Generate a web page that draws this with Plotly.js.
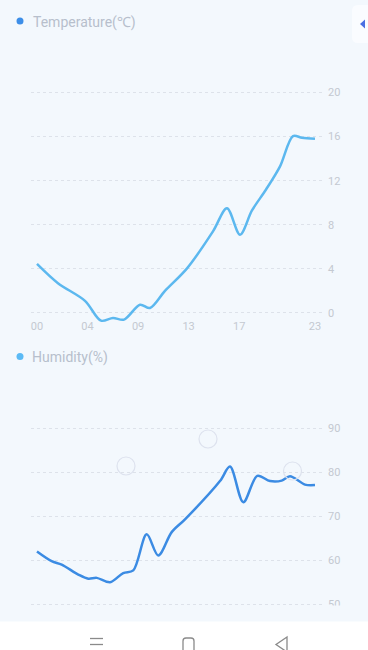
<!DOCTYPE html>
<html>
<head>
<meta charset="utf-8">
<script src="https://cdn.plot.ly/plotly-3.0.1.min.js"></script>
<style>
  html, body { margin: 0; padding: 0; background: #f3f8fd; }
  #chart { width: 368px; height: 650px; }
</style>
</head>
<body>
<div id="chart"></div>
<script>
// ---- data (x = sample position along the time axis) ----
const tempX = [0, 2.49, 5.7, 7.6, 9.02, 10.33, 12.23, 13.41, 15.19, 17.81, 20.89, 22.55, 24.1, 25.52, 27.19, 28.85, 30.39, 31.45, 33];
const tempY = [4.45, 2.7, 1.1, -0.7, -0.45, -0.6, 0.75, 0.45, 2.0, 4.05, 7.4, 9.5, 7.1, 9.3, 11.2, 13.3, 16.05, 15.9, 15.8];

const humX = [0, 1.74, 2.93, 4.9, 6.09, 7.09, 8.67, 10.24, 11.43, 13.02, 14.4, 15.99, 17.57, 21.72, 22.91, 24.49, 26.15, 27.66, 29.05, 30.03, 31.81, 33];
const humY = [62.0, 59.8, 59.0, 56.75, 55.8, 56.0, 55.0, 57.1, 57.7, 65.9, 61.1, 66.4, 69.3, 78.0, 81.3, 73.2, 79.2, 78.0, 78.1, 79.1, 77.2, 77.1];

const timeTickPos = [0, 6, 12, 18, 24, 33];
const timeTickText = ['00', '04', '09', '13', '17', '23'];
const tempTicks = [0, 4, 8, 12, 16, 20];
const humTicks = [50, 60, 70, 80, 90];

const tempName = 'Temperature(℃)';
const humName = 'Humidity(%)';

// ---- layout helpers (pixel -> paper) ----
const W = 368, H = 650;
const px = v => v / W;
const py = v => 1 - v / H;

const BG = '#f3f8fd';
const GRID = '#dde2ea';
const TICKC = '#c4c9d1';
const FONT = 'Roboto, "Noto Sans", sans-serif';

const traces = [
  { x: tempX, y: tempY, xaxis: 'x', yaxis: 'y', type: 'scatter', mode: 'lines',
    line: { color: '#5cb8ef', width: 2.5, shape: 'spline', smoothing: 0.9 }, hoverinfo: 'skip' },
  { x: humX, y: humY, xaxis: 'x2', yaxis: 'y2', type: 'scatter', mode: 'lines',
    line: { color: '#3b8be3', width: 2.5, shape: 'spline', smoothing: 0.9 }, hoverinfo: 'skip' }
];

const xcommon = {
  domain: [px(31), px(323)], range: [-0.71, 33.95],
  showgrid: false, zeroline: false, showline: false, ticks: '',
  tickmode: 'array', tickvals: timeTickPos, ticktext: timeTickText,
  tickfont: { family: FONT, size: 11, color: TICKC }, fixedrange: true
};

const layout = {
  width: W, height: H,
  margin: { l: 0, r: 0, t: 0, b: 0 },
  paper_bgcolor: BG, plot_bgcolor: BG,
  showlegend: false,
  font: { family: FONT },
  xaxis: Object.assign({}, xcommon, { anchor: 'y', ticklabelstandoff: -6 }),
  yaxis: {
    domain: [py(324), py(90.3)], range: [-1.0, 20.2], side: 'right', anchor: 'x',
    showgrid: true, gridcolor: GRID, griddash: 'dot', gridwidth: 1,
    zeroline: false, showline: false, ticks: '',
    tickmode: 'array', tickvals: tempTicks,
    tickfont: { family: FONT, size: 11, color: TICKC }, ticklabelstandoff: 4, fixedrange: true
  },
  xaxis2: Object.assign({}, xcommon, { anchor: 'y2', showticklabels: false }),
  yaxis2: {
    domain: [py(606), py(426)], range: [49.61, 90.52], side: 'right', anchor: 'x2',
    showgrid: true, gridcolor: GRID, griddash: 'dot', gridwidth: 1,
    zeroline: false, showline: false, ticks: '',
    tickmode: 'array', tickvals: humTicks,
    tickfont: { family: FONT, size: 11, color: TICKC }, ticklabelstandoff: 4, fixedrange: true
  },
  shapes: [
    // legend dots
    { type: 'circle', xref: 'paper', yref: 'paper', x0: px(16.5), x1: px(23.5), y0: py(24.5), y1: py(17.5),
      fillcolor: '#3d8ee8', line: { width: 0 } },
    { type: 'circle', xref: 'paper', yref: 'paper', x0: px(16.5), x1: px(23.5), y0: py(360), y1: py(353),
      fillcolor: '#5bbaf5', line: { width: 0 } },
    // faint touch circles
    { type: 'circle', xref: 'paper', yref: 'paper', x0: px(117), x1: px(135), y0: py(475), y1: py(457),
      line: { color: '#dde2ee', width: 1.2 }, fillcolor: 'rgba(0,0,0,0)' },
    { type: 'circle', xref: 'paper', yref: 'paper', x0: px(199), x1: px(217), y0: py(448), y1: py(430),
      line: { color: '#dde2ee', width: 1.2 }, fillcolor: 'rgba(0,0,0,0)' },
    { type: 'circle', xref: 'paper', yref: 'paper', x0: px(283.5), x1: px(301.5), y0: py(480), y1: py(462),
      line: { color: '#dde2ee', width: 1.2 }, fillcolor: 'rgba(0,0,0,0)' },
    // top-right tab
    { type: 'path', xref: 'paper', yref: 'paper', layer: 'above',
      path: `M ${px(372)} ${py(5)} L ${px(358)} ${py(5)} Q ${px(352)} ${py(5)} ${px(352)} ${py(11)} L ${px(352)} ${py(37)} Q ${px(352)} ${py(43)} ${px(358)} ${py(43)} L ${px(372)} ${py(43)} Z`,
      fillcolor: '#fafcff', line: { width: 0 } },
    { type: 'path', xref: 'paper', yref: 'paper', layer: 'above',
      path: `M ${px(360)} ${py(24)} L ${px(365)} ${py(19.5)} L ${px(365)} ${py(28.5)} Z`,
      fillcolor: '#4a6fe3', line: { width: 0 } },
    // clip strip under chart
    { type: 'rect', xref: 'paper', yref: 'paper', layer: 'above', x0: 0, x1: 1, y0: py(621.5), y1: py(605.5),
      fillcolor: BG, line: { width: 0 } },
    // navigation bar
    { type: 'rect', xref: 'paper', yref: 'paper', layer: 'above', x0: 0, x1: 1, y0: 0, y1: py(621.5),
      fillcolor: '#ffffff', line: { width: 0 } },
    { type: 'line', xref: 'paper', yref: 'paper', layer: 'above', x0: px(90), x1: px(103), y0: py(638.5), y1: py(638.5),
      line: { color: '#8a8a8a', width: 1.3 } },
    { type: 'line', xref: 'paper', yref: 'paper', layer: 'above', x0: px(90), x1: px(103), y0: py(644.5), y1: py(644.5),
      line: { color: '#8a8a8a', width: 1.3 } },
    { type: 'path', xref: 'paper', yref: 'paper', layer: 'above',
      path: `M ${px(183)} ${py(653)} L ${px(183)} ${py(641)} Q ${px(183)} ${py(638)} ${px(186)} ${py(638)} L ${px(191)} ${py(638)} Q ${px(194)} ${py(638)} ${px(194)} ${py(641)} L ${px(194)} ${py(653)}`,
      line: { color: '#8a8a8a', width: 1.3 } },
    { type: 'path', xref: 'paper', yref: 'paper', layer: 'above',
      path: `M ${px(287)} ${py(637)} L ${px(276)} ${py(644.5)} L ${px(287)} ${py(652)} Z`,
      fillcolor: 'rgba(0,0,0,0)', line: { color: '#8a8a8a', width: 1.3 } }
  ],
  annotations: [
    { text: tempName, xref: 'paper', yref: 'paper', x: px(31), y: py(22), xanchor: 'left', yanchor: 'middle',
      showarrow: false, font: { family: FONT, size: 14, color: '#b7bfcc' } },
    { text: humName, xref: 'paper', yref: 'paper', x: px(30), y: py(357), xanchor: 'left', yanchor: 'middle',
      showarrow: false, font: { family: FONT, size: 14, color: '#b7bfcc' } }
  ]
};

Plotly.newPlot('chart', traces, layout, { staticPlot: true, displayModeBar: false });
</script>
</body>
</html>
